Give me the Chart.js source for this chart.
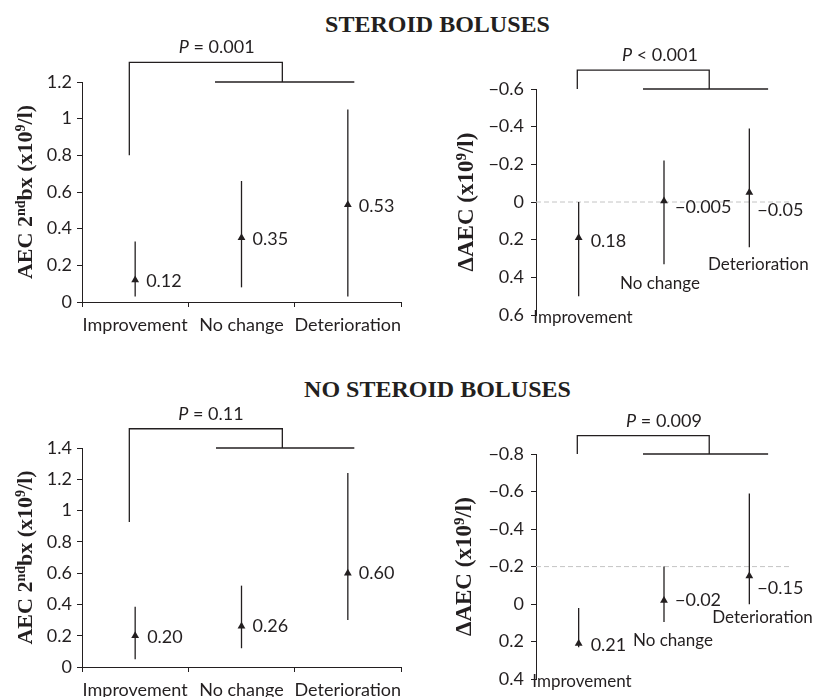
<!DOCTYPE html>
<html>
<head>
<meta charset="utf-8">
<script src="https://cdn.jsdelivr.net/npm/chart.js@4.4.1/dist/chart.umd.min.js"></script>
<style>
  body { margin: 0; background: #fff; width: 814px; height: 697px; overflow: hidden; position: relative; }
  canvas { position: absolute; left: 0; top: 0; }
  .ttl { position: absolute; left: 0; width: 875px; text-align: center; font: bold 24px "Liberation Serif", serif; color: #231f20; }
</style>
</head>
<body>
<div class="ttl" style="top:11px">STEROID BOLUSES</div>
<div class="ttl" style="top:376px">NO STEROID BOLUSES</div>
<canvas id="c1" width="814" height="697"></canvas>
<canvas id="c2" width="814" height="697"></canvas>
<canvas id="c3" width="814" height="697"></canvas>
<canvas id="c4" width="814" height="697"></canvas>
<script>
// categorias
const categories = ['Improvement', 'No change', 'Deterioration'];

// STEROID BOLUSES - AEC 2nd bx
const aecSteroid = [0.12, 0.35, 0.53];
const aecSteroidLow = [0.03, 0.08, 0.03];
const aecSteroidHigh = [0.33, 0.66, 1.05];
const aecSteroidText = ['0.12', '0.35', '0.53'];
const aecSteroidTicks = [0, 0.2, 0.4, 0.6, 0.8, 1, 1.2];

// STEROID BOLUSES - delta AEC
const deltaSteroid = [0.19, -0.005, -0.05];
const deltaSteroidFrom = [0, -0.22, -0.39];
const deltaSteroidTo = [0.5, 0.33, 0.24];
const deltaSteroidText = ['0.18', '\u22120.005', '\u22120.05'];
const deltaSteroidTicks = [-0.6, -0.4, -0.2, 0, 0.2, 0.4, 0.6];

// NO STEROID BOLUSES - AEC 2nd bx
const aecNoSteroid = [0.20, 0.26, 0.60];
const aecNoSteroidLow = [0.05, 0.12, 0.30];
const aecNoSteroidHigh = [0.385, 0.52, 1.24];
const aecNoSteroidText = ['0.20', '0.26', '0.60'];
const aecNoSteroidTicks = [0, 0.2, 0.4, 0.6, 0.8, 1, 1.2, 1.4];

// NO STEROID BOLUSES - delta AEC
const deltaNoSteroid = [0.21, -0.02, -0.15];
const deltaNoSteroidFrom = [0.02, -0.2, -0.59];
const deltaNoSteroidTo = [0.23, 0.095, 0.0];
const deltaNoSteroidText = ['0.21', '\u22120.02', '\u22120.15'];
const deltaNoSteroidTicks = [-0.8, -0.6, -0.4, -0.2, 0, 0.2, 0.4];

const pTexts = ['= 0.001', '< 0.001', '= 0.11', '= 0.009'];
const xTickValues = [-0.5, 0, 0.5, 1, 1.5, 2, 2.5];

const INK = '#231f20';
const SERIF = '"Liberation Serif", serif';
const SANS = 'Lato, sans-serif';
const Y_AXIS_W = 80;
const X_AXIS_H = 40;

const aecTitle = [
    ['bold 22px ' + SERIF, 'AEC 2', 0],
    ['bold 14px ' + SERIF, 'nd', -7],
    ['bold 22px ' + SERIF, 'bx (x10', 0],
    ['bold 14px ' + SERIF, '9', -7],
    ['bold 22px ' + SERIF, '/l)', 0]
];
const deltaTitle = [
    ['bold 23px ' + SERIF, '\u0394AEC (x10', 0],
    ['bold 15px ' + SERIF, '9', -7],
    ['bold 23px ' + SERIF, '/l)', 0]
];

const panels = [
    {
        id: 'c1', area: { left: 82, right: 401, top: 82, bottom: 302 },
        min: 0, max: 1.2, reverse: false, ticks: aecSteroidTicks,
        mean: aecSteroid, from: aecSteroidLow, to: aecSteroidHigh,
        text: aecSteroidText, shift: [[11, 1], [11, 1], [11, 1]],
        bracket: { xL: -0.055, xR: 1.384, yStart: 0.80, yTop: 1.307, yEnd: 1.2, hFrom: 0.751, hTo: 2.061 },
        pX: 0.767, pText: pTexts[0], title: aecTitle, titleX: 25
    },
    {
        id: 'c2', area: { left: 536, right: 792, top: 89, bottom: 315 },
        min: -0.6, max: 0.6, reverse: true, ticks: deltaSteroidTicks, cross: 0,
        mean: deltaSteroid, from: deltaSteroidFrom, to: deltaSteroidTo,
        text: deltaSteroidText, shift: [[12, 3], [11, 6], [8, 18]],
        catX: [0.051, 0.953, 2.105], catY: [0.616, 0.434, 0.333],
        bracket: { xL: -0.016, xR: 1.53, yStart: -0.6, yTop: -0.70, yEnd: -0.6, hFrom: 0.754, hTo: 2.22 },
        pX: 0.953, pText: pTexts[1], title: deltaTitle, titleX: 466
    },
    {
        id: 'c3', area: { left: 82, right: 401, top: 448, bottom: 667 },
        min: 0, max: 1.4, reverse: false, ticks: aecNoSteroidTicks,
        mean: aecNoSteroid, from: aecNoSteroidLow, to: aecNoSteroidHigh,
        text: aecNoSteroidText, shift: [[12, 1], [11, 0], [11, 0]],
        bracket: { xL: -0.055, xR: 1.384, yStart: 0.927, yTop: 1.523, yEnd: 1.4, hFrom: 0.76, hTo: 2.061 },
        pX: 0.713, pText: pTexts[2], title: aecTitle, titleX: 24.5
    },
    {
        id: 'c4', area: { left: 536, right: 792, top: 454, bottom: 682 },
        min: -0.8, max: 0.4, reverse: true, ticks: deltaNoSteroidTicks, cross: -0.2,
        mean: deltaNoSteroid, from: deltaNoSteroidFrom, to: deltaNoSteroidTo,
        text: deltaNoSteroidText, shift: [[12, 2], [11, 0], [8, 12]],
        catX: [0.039, 1.105, 2.154], catY: [0.415, 0.196, 0.07],
        bracket: { xL: -0.016, xR: 1.53, yStart: -0.8, yTop: -0.898, yEnd: -0.8, hFrom: 0.754, hTo: 2.22 },
        pX: 1.0, pText: pTexts[3], title: deltaTitle, titleX: 464
    }
];

function formatTick(v) {
    return String(Math.round(v * 10) / 10).replace('-', '\u2212');
}

// dibuja texto con partes de distinto tamaño (superindices)
function drawRich(ctx, segs, x, y) {
    let total = 0;
    segs.forEach(s => { ctx.font = s[0]; total += ctx.measureText(s[1]).width; });
    let cx = x - total / 2;
    ctx.textAlign = 'left';
    ctx.textBaseline = 'alphabetic';
    segs.forEach(s => {
        ctx.font = s[0];
        ctx.fillText(s[1], cx, y + (s[2] || 0));
        cx += ctx.measureText(s[1]).width;
    });
}

function makeOverlay(p) {
    return {
        id: 'overlay',
        afterDraw(chart) {
            const ctx = chart.ctx;
            const xs = chart.scales.x;
            const ys = chart.scales.y;
            ctx.save();
            ctx.fillStyle = INK;

            // etiquetas de valores
            ctx.font = '18px ' + SANS;
            ctx.textAlign = 'left';
            ctx.textBaseline = 'middle';
            p.mean.forEach((v, i) => {
                ctx.fillText(p.text[i], xs.getPixelForValue(i) + p.shift[i][0], ys.getPixelForValue(v) + p.shift[i][1]);
            });

            // etiquetas de categoria sueltas
            if (p.catX) {
                ctx.font = '17px ' + SANS;
                ctx.textAlign = 'center';
                categories.forEach((c, i) => {
                    ctx.fillText(c, xs.getPixelForValue(p.catX[i]), ys.getPixelForValue(p.catY[i]));
                });
            }

            // valor P
            const px = xs.getPixelForValue(p.pX);
            const py = ys.getPixelForValue(p.bracket.yTop) - 15 + 6;
            drawRich(ctx, [['italic 18px ' + SANS, 'P', 0], ['18px ' + SANS, ' ' + p.pText, 0]], px, py);

            // titulo del eje Y
            ctx.translate(p.titleX, (chart.chartArea.top + chart.chartArea.bottom) / 2);
            ctx.rotate(-Math.PI / 2);
            drawRich(ctx, p.title, 0, 7);
            ctx.restore();
        }
    };
}

function crearPanel(p) {
    const b = p.bracket;
    const floating = p.cross !== undefined;
    const lineBase = { showLine: true, pointRadius: 0, borderColor: INK, borderWidth: 1.3, tension: 0 };
    const datasets = [{
        data: p.mean.map((v, i) => ({ x: i, y: v })),
        pointStyle: 'triangle',
        pointRadius: 4.5,
        backgroundColor: INK,
        borderColor: INK,
        borderWidth: 0
    }];
    p.mean.forEach((v, i) => {
        datasets.push(Object.assign({}, lineBase, {
            data: [{ x: i, y: p.from[i] }, { x: i, y: p.to[i] }]
        }));
    });
    datasets.push(Object.assign({}, lineBase, {
        clip: false,
        data: [{ x: b.xL, y: b.yStart }, { x: b.xL, y: b.yTop }, { x: b.xR, y: b.yTop }, { x: b.xR, y: b.yEnd }]
    }));
    datasets.push(Object.assign({}, lineBase, {
        clip: false,
        data: [{ x: b.hFrom, y: b.yEnd }, { x: b.hTo, y: b.yEnd }]
    }));
    if (floating) {
        // eje horizontal discontinuo que cruza en p.cross
        datasets.push(Object.assign({}, lineBase, {
            borderColor: '#c4c4c4', borderWidth: 1, borderDash: [5, 3],
            data: [{ x: -0.5, y: p.cross }, { x: 2.5, y: p.cross }]
        }));
    }

    const xScale = {
        type: 'linear', min: -0.5, max: 2.5,
        afterBuildTicks: s => { s.ticks = xTickValues.map(value => ({ value })); }
    };
    if (floating) {
        Object.assign(xScale, {
            display: false,
            afterFit: s => { s.height = 0; }
        });
    } else {
        Object.assign(xScale, {
            position: 'bottom',
            afterFit: s => { s.height = X_AXIS_H; },
            grid: {
                drawOnChartArea: false, tickLength: 5, lineWidth: 1,
                color: c => (c.tick && Number.isInteger(c.tick.value)) ? 'rgba(0,0,0,0)' : INK
            },
            border: { color: INK, width: 1 },
            ticks: {
                autoSkip: false, maxRotation: 0, minRotation: 0, padding: 7,
                color: INK, font: { family: SANS, size: 18 },
                callback: v => Number.isInteger(v) ? categories[v] : ''
            }
        });
    }

    const a = p.area;
    const bottomPad = floating ? 697 - a.bottom : 697 - a.bottom - X_AXIS_H;
    new Chart(document.getElementById(p.id), {
        type: 'scatter',
        data: { datasets },
        options: {
            responsive: false,
            animation: false,
            devicePixelRatio: 1,
            layout: {
                autoPadding: false,
                padding: { left: a.left - Y_AXIS_W, top: a.top, right: 814 - a.right, bottom: bottomPad }
            },
            plugins: { legend: { display: false }, tooltip: { enabled: false } },
            scales: {
                x: xScale,
                y: {
                    type: 'linear', position: 'left',
                    min: p.min, max: p.max, reverse: p.reverse,
                    afterBuildTicks: s => { s.ticks = p.ticks.map(value => ({ value })); },
                    afterFit: s => { s.width = Y_AXIS_W; },
                    grid: { drawOnChartArea: false, tickLength: 5, color: INK, lineWidth: 1 },
                    border: { color: INK, width: 1 },
                    ticks: {
                        padding: floating ? 7 : 5,
                        color: INK, font: { family: SANS, size: 18 },
                        callback: v => formatTick(v)
                    }
                }
            }
        },
        plugins: [makeOverlay(p)]
    });
}

document.addEventListener('DOMContentLoaded', function() {
    panels.forEach(crearPanel);
});
</script>
</body>
</html>
